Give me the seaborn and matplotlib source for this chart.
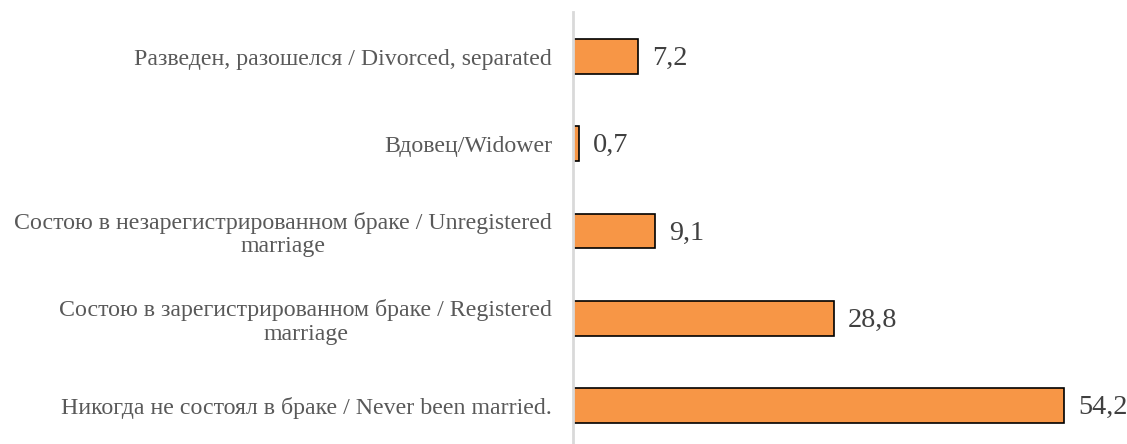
import matplotlib
matplotlib.use("Agg")
import matplotlib.pyplot as plt
import seaborn as sns
import pandas as pd

categories = [
    "Разведен, разошелся / Divorced, separated",
    "Вдовец/Widower",
    "Состою в незарегистрированном браке / Unregistered\nmarriage",
    "Состою в зарегистрированном браке / Registered\nmarriage",
    "Никогда не состоял в браке / Never been married.",
]
values = [7.2, 0.7, 9.1, 28.8, 54.2]
value_labels = ["7,2", "0,7", "9,1", "28,8", "54,2"]

sns.set_theme(style="white")
plt.rcParams['font.family'] = ['Liberation Serif', 'DejaVu Serif']

df = pd.DataFrame({"cat": categories, "val": values})

fig = plt.figure(figsize=(11.27, 4.44), dpi=100)
ax = fig.add_axes([573/1127, 0.0, 1 - 573/1127, 1 - 12/444])

sns.barplot(data=df, y="cat", x="val", orient="h", color="#F79646",
            edgecolor="black", linewidth=1.2, width=0.40, saturation=1, ax=ax)

ax.set_xlim(0, 61.15)
ax.set_ylim(4.441, -0.51)
ax.set_xlabel("")
ax.set_ylabel("")
ax.set_xticks([])
for s in ["top", "right", "bottom"]:
    ax.spines[s].set_visible(False)
ax.spines["left"].set_color("#D9D9D9")
ax.spines["left"].set_linewidth(2)

ax.tick_params(axis="y", length=0, pad=15, labelsize=17.2, labelcolor="#595959")
for t in ax.get_yticklabels():
    t.set_multialignment("center")
    t.set_linespacing(1.15)

for i, (v, lab) in enumerate(zip(values, value_labels)):
    ax.annotate(lab, xy=(v, i), xytext=(14, -2), textcoords="offset pixels",
                ha="left", va="center", fontsize=20.3, color="#404040")

fig.savefig("out.png", dpi=100)
